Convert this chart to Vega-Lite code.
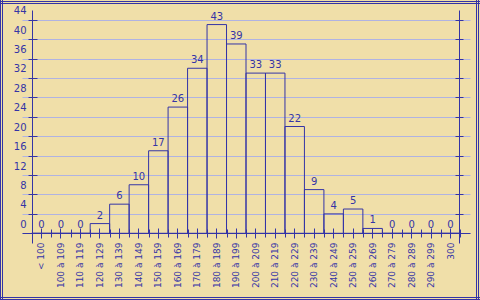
{
  "$schema": "https://vega.github.io/schema/vega-lite/v6.json",
  "width": 480,
  "height": 300,
  "autosize": "none",
  "padding": 0,
  "background": "#F0DFA9",
  "config": {
    "view": {"stroke": null},
    "axis": {"labelFont": "DejaVu Sans", "labelColor": "#3434A6", "domainColor": "#3434A6", "tickColor": "#3434A6", "title": null}
  },
  "datasets": {
    "counts": [
      {"range": "< 100", "count": 0},
      {"range": "100 à 109", "count": 0},
      {"range": "110 à 119", "count": 0},
      {"range": "120 à 129", "count": 2},
      {"range": "130 à 139", "count": 6},
      {"range": "140 à 149", "count": 10},
      {"range": "150 à 159", "count": 17},
      {"range": "160 à 169", "count": 26},
      {"range": "170 à 179", "count": 34},
      {"range": "180 à 189", "count": 43},
      {"range": "190 à 199", "count": 39},
      {"range": "200 à 209", "count": 33},
      {"range": "210 à 219", "count": 33},
      {"range": "220 à 229", "count": 22},
      {"range": "230 à 239", "count": 9},
      {"range": "240 à 249", "count": 4},
      {"range": "250 à 259", "count": 5},
      {"range": "260 à 269", "count": 1},
      {"range": "270 à 279", "count": 0},
      {"range": "280 à 289", "count": 0},
      {"range": "290 à 299", "count": 0},
      {"range": "300", "count": 0}
    ]
  },
  "layer": [
    {
      "data": {"values": [{}]},
      "mark": {"type": "rect", "fill": {"gradient": "linear", "x1": 0, "y1": 0, "x2": 1, "y2": 0, "stops": [
        {"offset": 0, "color": "#3434A6"},
        {"offset": 0.00208, "color": "#3434A6"},
        {"offset": 0.00208, "color": "rgba(0,0,0,0)"},
        {"offset": 0.00417, "color": "rgba(0,0,0,0)"},
        {"offset": 0.00417, "color": "#3434A6"},
        {"offset": 0.00625, "color": "#3434A6"},
        {"offset": 0.00625, "color": "rgba(0,0,0,0)"},
        {"offset": 0.99167, "color": "rgba(0,0,0,0)"},
        {"offset": 0.99167, "color": "#3434A6"},
        {"offset": 0.99375, "color": "#3434A6"},
        {"offset": 0.99375, "color": "rgba(0,0,0,0)"},
        {"offset": 0.99583, "color": "rgba(0,0,0,0)"},
        {"offset": 0.99583, "color": "#3434A6"},
        {"offset": 0.99792, "color": "#3434A6"},
        {"offset": 0.99792, "color": "rgba(0,0,0,0)"},
        {"offset": 1, "color": "rgba(0,0,0,0)"}
      ]}},
      "encoding": {}
    },
    {
      "data": {"values": [{}]},
      "mark": {"type": "rect", "fill": {"gradient": "linear", "x1": 0, "y1": 0, "x2": 0, "y2": 1, "stops": [
        {"offset": 0, "color": "rgba(0,0,0,0)"},
        {"offset": 0.00333, "color": "rgba(0,0,0,0)"},
        {"offset": 0.00333, "color": "#3434A6"},
        {"offset": 0.00667, "color": "#3434A6"},
        {"offset": 0.00667, "color": "rgba(0,0,0,0)"},
        {"offset": 0.01, "color": "rgba(0,0,0,0)"},
        {"offset": 0.01, "color": "#3434A6"},
        {"offset": 0.01333, "color": "#3434A6"},
        {"offset": 0.01333, "color": "rgba(0,0,0,0)"},
        {"offset": 0.99, "color": "rgba(0,0,0,0)"},
        {"offset": 0.99, "color": "#3434A6"},
        {"offset": 0.99333, "color": "#3434A6"},
        {"offset": 0.99333, "color": "rgba(0,0,0,0)"},
        {"offset": 0.99667, "color": "rgba(0,0,0,0)"},
        {"offset": 0.99667, "color": "#3434A6"},
        {"offset": 1, "color": "#3434A6"}
      ]}},
      "encoding": {}
    },
    {
      "data": {"name": "counts"},
      "mark": {"type": "bar", "fill": "transparent", "stroke": "#3434A6", "strokeWidth": 1},
      "encoding": {
        "x": {"field": "range", "type": "nominal", "sort": null,
          "scale": {"range": [22, 470], "paddingInner": 0, "paddingOuter": 0.5},
          "axis": {"orient": "bottom", "offset": -67, "labelAngle": 270, "labelAlign": "right", "labelBaseline": "middle", "labelFontSize": 9, "labelPadding": 4, "tickSize": 5, "grid": false}},
        "y": {"field": "count", "type": "quantitative",
          "scale": {"domain": [-2, 46], "range": [243, 10], "nice": false, "zero": false},
          "axis": {"orient": "left", "offset": -32, "values": [0, 4, 8, 12, 16, 20, 24, 28, 32, 36, 40, 44], "labelFontSize": 10, "labelOffset": -9, "labelPadding": 2, "tickSize": 4, "grid": true, "gridColor": "#B0B3E2", "gridOpacity": 1}}
      }
    },
    {
      "data": {"name": "counts"},
      "mark": {"type": "text", "color": "#3434A6", "font": "DejaVu Sans", "fontSize": 10, "dy": -8},
      "encoding": {
        "x": {"field": "range", "type": "nominal", "sort": null,
          "axis": {"orient": "bottom", "offset": -67, "labels": false, "domain": false, "tickBand": "extent", "tickSize": 4, "grid": false}},
        "y": {"field": "count", "type": "quantitative",
          "axis": {"orient": "right", "offset": -21, "values": [0, 4, 8, 12, 16, 20, 24, 28, 32, 36, 40, 44], "labels": false, "tickSize": 4, "grid": false}},
        "text": {"field": "count", "type": "quantitative"}
      }
    },
    {
      "data": {"name": "counts"},
      "mark": {"type": "point", "opacity": 0},
      "encoding": {
        "x": {"field": "range", "type": "nominal", "sort": null,
          "axis": {"orient": "bottom", "offset": -67, "labels": false, "domain": false, "tickSize": -5, "grid": false}},
        "y": {"field": "count", "type": "quantitative",
          "axis": {"orient": "left", "offset": -32, "values": [0, 4, 8, 12, 16, 20, 24, 28, 32, 36, 40, 44], "labels": false, "domain": false, "tickSize": -5, "grid": false}}
      }
    },
    {
      "data": {"name": "counts"},
      "mark": {"type": "point", "opacity": 0},
      "encoding": {
        "x": {"field": "range", "type": "nominal", "sort": null,
          "axis": {"orient": "bottom", "offset": -67, "labels": false, "domain": false, "tickBand": "extent", "tickSize": -4, "grid": false}},
        "y": {"field": "count", "type": "quantitative",
          "axis": {"orient": "right", "offset": -21, "values": [0, 4, 8, 12, 16, 20, 24, 28, 32, 36, 40, 44], "labels": false, "domain": false, "tickSize": -4, "grid": false}}
      }
    }
  ],
  "resolve": {"axis": {"x": "independent", "y": "independent"}}
}
